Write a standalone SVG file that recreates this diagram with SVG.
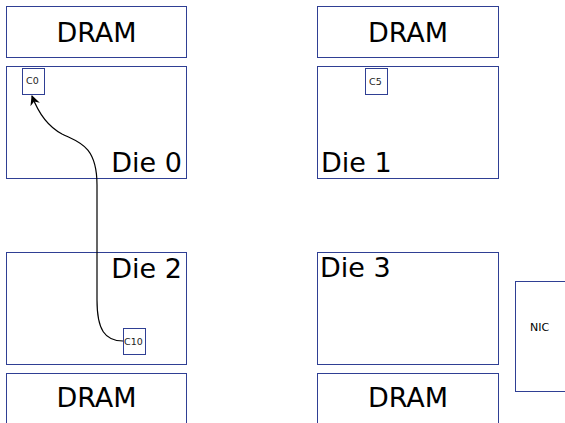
<svg xmlns="http://www.w3.org/2000/svg" width="565" height="423" viewBox="0 0 565 423">
  <style>
    .box { fill: #ffffff; stroke: #2f3f94; stroke-width: 1; }
    .big { font-family: "DejaVu Sans", sans-serif; font-size: 27px; fill: #000; }
    .core { font-family: "DejaVu Sans", sans-serif; font-size: 9.5px; fill: #222; }
    .nic { font-family: "DejaVu Sans", sans-serif; font-size: 11px; fill: #000; }
    .link { fill: none; stroke: #000; stroke-width: 1.2; }
  </style>
  <defs>
    <marker id="arrow" viewBox="0 0 10 10" refX="9" refY="5" markerWidth="10" markerHeight="10" orient="auto" markerUnits="userSpaceOnUse">
      <path d="M0,0 L10,5 L0,10 L3,5 Z" fill="#000"/>
    </marker>
  </defs>
  <rect width="565" height="423" fill="#ffffff"/>

  <g id="dram-top-left">
    <rect class="box" x="6.5" y="6.5" width="180" height="51"/>
    <text class="big" x="96.5" y="42" text-anchor="middle">DRAM</text>
  </g>
  <g id="dram-top-right">
    <rect class="box" x="317.5" y="6.5" width="181" height="51"/>
    <text class="big" x="408" y="42" text-anchor="middle">DRAM</text>
  </g>

  <g id="die0">
    <rect class="box" x="6.5" y="66.5" width="180" height="112"/>
    <text class="big" x="182" y="172" text-anchor="end">Die 0</text>
  </g>
  <g id="c0">
    <rect class="box" x="22.5" y="68.5" width="22" height="26"/>
    <text class="core" x="26" y="84">C0</text>
  </g>

  <g id="die1">
    <rect class="box" x="317.5" y="66.5" width="181" height="112"/>
    <text class="big" x="321" y="172">Die 1</text>
  </g>
  <g id="c5">
    <rect class="box" x="365.5" y="68.5" width="22" height="26"/>
    <text class="core" x="369" y="85">C5</text>
  </g>

  <g id="die2">
    <rect class="box" x="6.5" y="252.5" width="180" height="112"/>
    <text class="big" x="182" y="278" text-anchor="end">Die 2</text>
  </g>
  <g id="c10">
    <rect class="box" x="123.5" y="328.5" width="22" height="26"/>
    <text class="core" x="124" y="345">C10</text>
  </g>

  <g id="die3">
    <rect class="box" x="317.5" y="252.5" width="181" height="112"/>
    <text class="big" x="320" y="277">Die 3</text>
  </g>

  <g id="dram-bottom-left">
    <rect class="box" x="6.5" y="373.5" width="180" height="60"/>
    <text class="big" x="96.5" y="407" text-anchor="middle">DRAM</text>
  </g>
  <g id="dram-bottom-right">
    <rect class="box" x="317.5" y="373.5" width="181" height="60"/>
    <text class="big" x="408" y="407" text-anchor="middle">DRAM</text>
  </g>

  <g id="nic">
    <rect class="box" x="515.5" y="281.5" width="60" height="110"/>
    <text class="nic" x="530" y="331">NIC</text>
  </g>

  <g id="connectors">
    <path class="link" marker-end="url(#arrow)" d="M123,341 C105,341 97,330 97,300 L97,185 C97,145 78,142 62,134 C47,126 38,112 32,96"/>
  </g>
</svg>
